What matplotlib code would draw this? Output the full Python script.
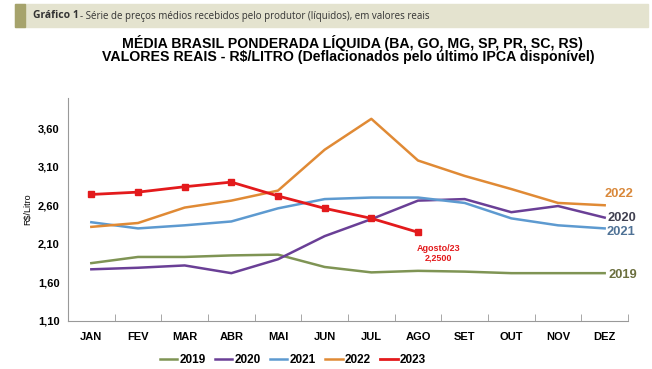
import matplotlib
matplotlib.use("Agg")
import matplotlib.pyplot as plt
from matplotlib.patches import Rectangle

plt.rcParams['font.family'] = ['Liberation Sans', 'DejaVu Sans']

meses = ["JAN", "FEV", "MAR", "ABR", "MAI", "JUN", "JUL", "AGO", "SET", "OUT", "NOV", "DEZ"]

v2019 = [1.85, 1.93, 1.93, 1.95, 1.96, 1.80, 1.73, 1.75, 1.74, 1.72, 1.72, 1.72]
v2020 = [1.77, 1.79, 1.82, 1.72, 1.90, 2.20, 2.42, 2.66, 2.68, 2.51, 2.59, 2.44]
v2021 = [2.38, 2.30, 2.34, 2.39, 2.56, 2.68, 2.70, 2.70, 2.63, 2.43, 2.34, 2.30]
v2022 = [2.32, 2.37, 2.57, 2.66, 2.79, 3.32, 3.72, 3.18, 2.98, 2.81, 2.63, 2.60]
v2023 = [2.74, 2.77, 2.84, 2.90, 2.72, 2.56, 2.43, 2.25]

yticks = [1.10, 1.60, 2.10, 2.60, 3.10, 3.60]

cores = {
    "2019": "#7f9454",
    "2020": "#6a3f96",
    "2021": "#5d9ad0",
    "2022": "#e08a35",
    "2023": "#e31a1c",
}

fig = plt.figure(figsize=(6.52, 3.69), dpi=100)

# faixa do cabecalho
fig.patches.append(Rectangle((15 / 652, 1 - 27 / 369), 633 / 652, 23 / 369,
                             transform=fig.transFigure, color="#e4e3cf", zorder=0))
fig.patches.append(Rectangle((15 / 652, 1 - 27 / 369), 10 / 652, 23 / 369,
                             transform=fig.transFigure, color="#a6a36c", zorder=1))
fig.text(33 / 652, 1 - 16 / 369, "Gráfico 1", fontsize=7.5, fontweight="bold",
         color="#333333", va="center", family=["Open Sans", "DejaVu Sans"])
fig.text(80 / 652, 1 - 16 / 369, "- Série de preços médios recebidos pelo produtor (líquidos), em valores reais",
         fontsize=7, color="#333333", va="center", family=["Open Sans", "DejaVu Sans"])

fig.text(352 / 652, 1 - 43 / 369, "MÉDIA BRASIL PONDERADA LÍQUIDA (BA, GO, MG, SP, PR, SC, RS)",
         ha="center", va="center", fontsize=10.2, fontweight="bold")
fig.text(348 / 652, 1 - 57 / 369, "VALORES REAIS - R$/LITRO (Deflacionados pelo último IPCA disponível)",
         ha="center", va="center", fontsize=10.2, fontweight="bold")

ax = fig.add_axes([68 / 652, 1 - 321 / 369, 560 / 652, 223 / 369])
x = list(range(12))
ax.plot(x, v2019, color=cores["2019"], lw=1.8, label="2019")
ax.plot(x, v2020, color=cores["2020"], lw=1.8, label="2020")
ax.plot(x, v2021, color=cores["2021"], lw=1.8, label="2021")
ax.plot(x, v2022, color=cores["2022"], lw=1.8, label="2022")
ax.plot(range(len(v2023)), v2023, color=cores["2023"], lw=2, marker="s", ms=5, label="2023")

ax.set_xlim(-0.5, 11.5)
ax.set_ylim(1.10, 3.99)
ax.set_xticks(x)
ax.set_xticklabels(meses, fontsize=8, fontweight="bold")
ax.set_xticks([i + 0.5 for i in range(-1, 12)], minor=True)
ax.tick_params(axis="x", which="major", length=0, pad=8)
ax.tick_params(axis="x", which="minor", length=5, direction="in", color="#999999")
ax.set_yticks(yticks)
ax.set_yticklabels([f"{v:.2f}".replace(".", ",") for v in yticks], fontsize=8, fontweight="bold")
ax.tick_params(axis="y", length=0, pad=6)
ax.set_ylabel("R$/Litro", fontsize=6.5, labelpad=4)
for s in ["top", "right"]:
    ax.spines[s].set_visible(False)
ax.spines["left"].set_color("#999999")
ax.spines["bottom"].set_color("#999999")

ax.annotate("Agosto/23\n2,2500", (7, v2023[7]), xytext=(15, -15), textcoords="offset points",
            ha="center", va="center", fontsize=6.5, fontweight="bold", color=cores["2023"],
            linespacing=1.1)

# rotulos dos anos a direita
ax.text(11.0, 2.75, "2022", color="#d9883a", fontsize=9.3, fontweight="bold", va="center")
ax.text(11.06, 2.44, "2020", color="#404050", fontsize=9.3, fontweight="bold", va="center")
ax.text(11.04, 2.25, "2021", color="#4f7296", fontsize=9.3, fontweight="bold", va="center")
ax.text(11.08, 1.69, "2019", color="#6b6f3e", fontsize=9.3, fontweight="bold", va="center")

leg = fig.legend(loc="center", bbox_to_anchor=(293 / 652, 1 - 360 / 369), ncol=5, frameon=False,
                 fontsize=8.5, handlelength=1.45, handletextpad=0.2, columnspacing=0.8)
for t in leg.get_texts():
    t.set_fontweight("bold")
for h in leg.legend_handles:
    h.set_marker("")

fig.savefig("out.png", dpi=100)
